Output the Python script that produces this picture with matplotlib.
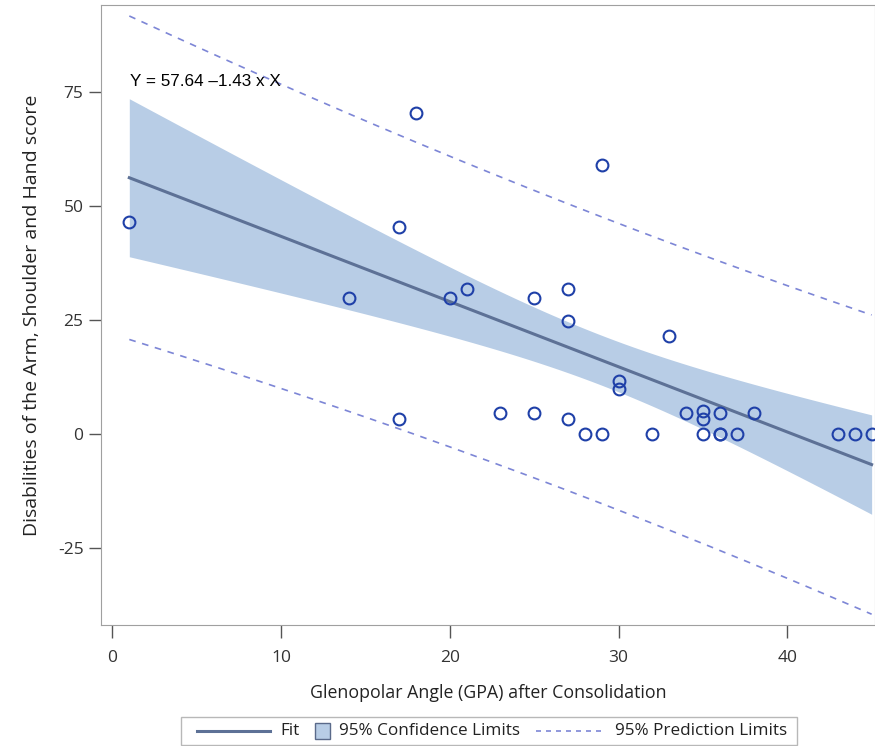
import matplotlib
matplotlib.use("Agg")
import matplotlib.pyplot as plt
import numpy as np
from matplotlib.lines import Line2D
from matplotlib.patches import Rectangle

plt.rcParams['axes.unicode_minus'] = False

# GPA after consolidation (deg) and DASH score
gpa = [1, 18, 29, 17, 14, 20, 21, 25, 27, 27, 33, 30, 30, 17, 23, 25, 27, 28, 29, 32,
       34, 35, 35, 36, 38, 35, 36, 36, 37, 43, 44, 45]
dash = [46.5, 70.4, 59.0, 45.4, 29.8, 29.8, 31.8, 29.8, 31.8, 24.8, 21.5, 11.6, 9.9, 3.3, 4.6, 4.6, 3.3, 0, 0, 0,
        4.6, 5.0, 3.3, 4.6, 4.6, 0, 0, 0, 0, 0, 0, 0]

intercept = 57.64
slope = -1.43

x = np.array(gpa, dtype=float)
y = np.array(dash, dtype=float)
n = len(x)
fit = intercept + slope * x
s = np.sqrt(np.sum((y - fit) ** 2) / (n - 2))
xbar = x.mean()
sxx = np.sum((x - xbar) ** 2)
tval = 2.04  # t(0.975, ~30 df)

xs = np.linspace(x.min(), x.max(), 200)
ys = intercept + slope * xs
se_mean = s * np.sqrt(1.0 / n + (xs - xbar) ** 2 / sxx)
se_pred = s * np.sqrt(1 + 1.0 / n + (xs - xbar) ** 2 / sxx)

W, H = 875, 746
fig = plt.figure(figsize=(W / 100, H / 100), dpi=100)
ax = fig.add_axes([0.1154, 0.1622, 0.8846, 0.8311])

band_col = '#b8cde6'
fit_col = '#5d7196'
pt_col = '#1f40a8'
pred_col = '#7d86d6'
font = 'Open Sans'

ax.fill_between(xs, ys - tval * se_mean, ys + tval * se_mean, color=band_col, lw=0)
ax.plot(xs, ys, color=fit_col, lw=2.2)
ax.plot(xs, ys + tval * se_pred, color=pred_col, lw=1.2, ls=(0, (4, 4)))
ax.plot(xs, ys - tval * se_pred, color=pred_col, lw=1.2, ls=(0, (4, 4)))
ax.plot(x, y, 'o', mfc='none', mec=pt_col, ms=8.5, mew=1.5, clip_on=False)

ax.text(1.04, 77.3, 'Y = 57.64 \u20131.43 x X', fontsize=12.3, family='Liberation Sans', va='center')

ax.set_xlim(-0.68, 45.2)
ax.set_ylim(-41.9, 94.1)
ax.set_xticks([0, 10, 20, 30, 40])
ax.set_yticks([-25, 0, 25, 50, 75])
for sp in ax.spines.values():
    sp.set_color('#a0a0a0')
ax.tick_params(colors='#555555', labelcolor='#333333', length=9, width=1, labelsize=12.5,
               direction='out')
ax.tick_params(axis='x', labelsize=12.5, pad=9)
for lab in ax.get_xticklabels() + ax.get_yticklabels():
    lab.set_family(font)
ax.set_xlabel('Glenopolar Angle (GPA) after Consolidation', fontsize=12.8, family=font,
              color='#222222', labelpad=13)
ax.set_ylabel('Disabilities of the Arm, Shoulder and Hand score', fontsize=14, family=font,
              color='#222222', labelpad=12)


# legend drawn by hand (pixel positions -> figure fraction)
def fx(px):
    return px / W


def fy(py):
    return 1 - py / H


ly = 731
fig.add_artist(Rectangle((fx(181), fy(745)), fx(797) - fx(181), fy(717) - fy(745),
                         transform=fig.transFigure, fill=False, ec='#b8b8b8', lw=1))
fig.add_artist(Line2D([fx(197), fx(270)], [fy(ly), fy(ly)], transform=fig.transFigure,
                      color=fit_col, lw=2.2))
fig.text(fx(280), fy(ly), 'Fit', fontsize=12.3, family=font, va='center', color='#222222')
fig.add_artist(Rectangle((fx(315), fy(739)), fx(330) - fx(315), fy(723) - fy(739),
                         transform=fig.transFigure, fc=band_col, ec='#5a6a8a', lw=1))
fig.text(fx(339), fy(ly), '95% Confidence Limits', fontsize=12.3, family=font, va='center',
         color='#222222')
fig.add_artist(Line2D([fx(536), fx(606)], [fy(ly), fy(ly)], transform=fig.transFigure,
                      color=pred_col, lw=1.2, ls=(0, (3, 3))))
fig.text(fx(615), fy(ly), '95% Prediction Limits', fontsize=12.3, family=font, va='center',
         color='#222222')

fig.savefig('out.png', dpi=100)
